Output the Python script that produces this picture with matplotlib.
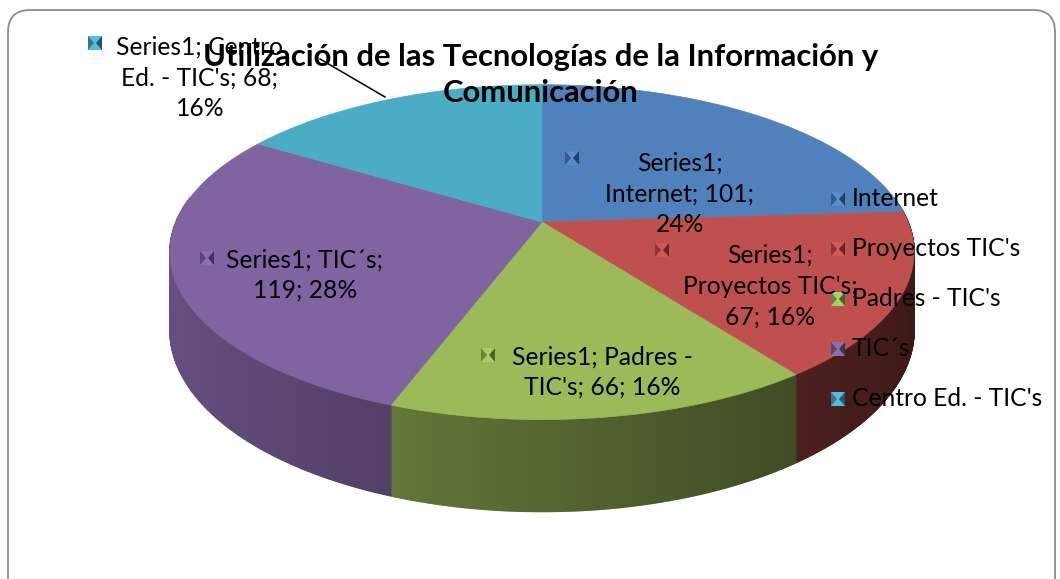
import numpy as np
import matplotlib.pyplot as plt
from matplotlib.patches import Polygon, FancyBboxPatch
from matplotlib.colors import to_rgb

# datos
categorias = ["Internet", "Proyectos TIC's", "Padres - TIC's", "TIC´s", "Centro Ed. - TIC's"]
valores = [101, 67, 66, 119, 68]
colores = ["#4F81BD", "#C0504D", "#9BBB59", "#8064A2", "#4BACC6"]
etiquetas = [
    "Series1;\nInternet; 101;\n24%",
    "Series1;\nProyectos TIC's;\n67; 16%",
    "Series1; Padres -\nTIC's; 66; 16%",
    "Series1; TIC´s;\n119; 28%",
    "Series1; Centro\nEd. - TIC's; 68;\n16%",
]
titulo = "Utilización de las Tecnologías de la Información y\nComunicación"

plt.rcParams["font.family"] = ["Lato", "DejaVu Sans"]

fig = plt.figure(figsize=(10.6, 5.79), dpi=100)
ax = fig.add_axes([0, 0, 1, 1])
ax.set_xlim(0, 1060)
ax.set_ylim(579, 0)
ax.axis("off")

# marco redondeado
ax.add_patch(FancyBboxPatch((8, 10), 1047, 600, boxstyle="round,pad=0,rounding_size=22",
                            fc="white", ec="#8c8c8c", lw=1.3, zorder=0))

# geometria de la tarta en perspectiva
cx, cy = 542, 222
A, B, k = 366, 162, 0.18
H = 92 * (1 - k)


def proj(t):
    u, v = np.sin(t), np.cos(t)
    d = 1 + k * v
    return cx + A * u / d, cy - B * v / d, H / d


total = sum(valores)
bordes = np.concatenate([[0], np.cumsum(valores)]) / total * 2 * np.pi

# lados
for i, c in enumerate(colores):
    base = np.array(to_rgb(c))
    ts = np.linspace(bordes[i], bordes[i + 1], 200)
    for t0, t1 in zip(ts[:-1], ts[1:]):
        tm = 0.5 * (t0 + t1)
        if np.cos(tm) > 0.15:
            continue
        x0, y0, h0 = proj(t0)
        x1, y1, h1 = proj(t1)
        f = 0.55 - 0.25 * np.sin(tm)
        col = np.clip(base * f, 0, 1)
        ax.add_patch(Polygon([(x0, y0), (x1, y1), (x1, y1 + h1), (x0, y0 + h0)],
                             closed=True, fc=col, ec=col, lw=1.0, zorder=1))

# caras superiores
for i, c in enumerate(colores):
    ts = np.linspace(bordes[i], bordes[i + 1], 200)
    xs, ys, _ = proj(ts)
    pts = [(cx, cy)] + list(zip(xs, ys))
    ax.add_patch(Polygon(pts, closed=True, fc=c, ec=c, lw=0.5, zorder=2))


def clave(x, y, c, s=14):
    base = np.array(to_rgb(c))
    h = s / 2
    ax.add_patch(Polygon([(x - h, y - h), (x + h, y - h), (x + h, y + h), (x - h, y + h)],
                         fc=np.clip(base * 1.1, 0, 1), ec="none", zorder=5))
    ax.add_patch(Polygon([(x - h, y - h), (x - 1, y), (x - h, y + h)], fc=np.clip(base * 0.7, 0, 1), ec="none", zorder=6))
    ax.add_patch(Polygon([(x + h, y - h), (x + 1, y), (x + h, y + h)], fc=np.clip(base * 0.5, 0, 1), ec="none", zorder=6))


# etiquetas de datos
pos_etq = [(680, 194), (770, 286), (602, 372), (305, 275), (200, 78)]
pos_clave = [(572, 158), (662, 250), (488, 355), (207, 258), (95, 43)]
for i in range(len(valores)):
    clave(*pos_clave[i], colores[i])
    ax.text(*pos_etq[i], etiquetas[i], ha="center", va="center", fontsize=17.7,
            linespacing=1.4, color="black", zorder=8)

ax.plot([320, 385], [59, 97], color="black", lw=1.1, zorder=7)

# leyenda
for i, cat in enumerate(categorias):
    y = 199 + 50 * i
    clave(838, y, colores[i])
    ax.text(852, y, cat, ha="left", va="center", fontsize=17.7, color="black", zorder=8)

ax.text(541, 75, titulo, ha="center", va="center", fontsize=22.3, fontweight="bold",
        linespacing=1.36, color="black", zorder=9)

fig.savefig("out.png", dpi=100)
